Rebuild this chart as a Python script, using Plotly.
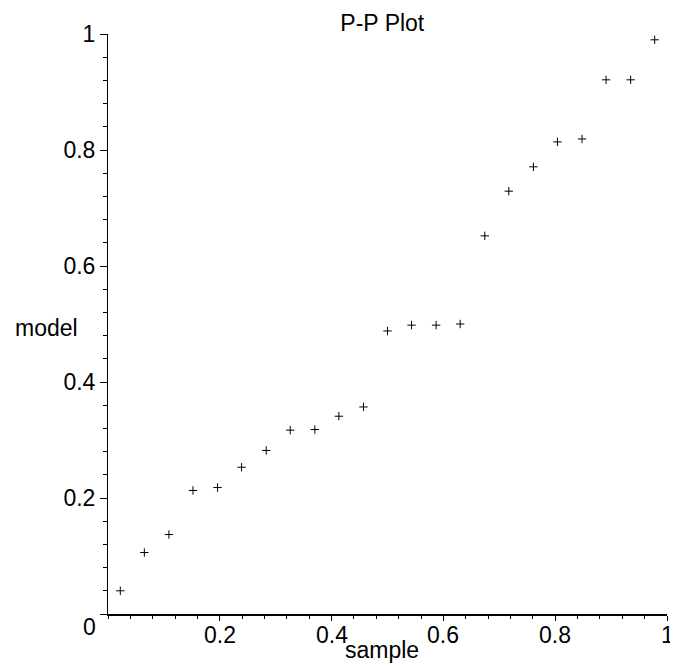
import plotly.graph_objects as go

# Data
sample = [0.022, 0.065, 0.109, 0.152, 0.196, 0.239, 0.283, 0.326, 0.370, 0.413,
          0.457, 0.500, 0.543, 0.587, 0.630, 0.674, 0.717, 0.761, 0.804, 0.848,
          0.891, 0.935, 0.978]
model = [0.040, 0.106, 0.137, 0.213, 0.218, 0.253, 0.282, 0.317, 0.318, 0.341,
         0.357, 0.488, 0.498, 0.498, 0.500, 0.652, 0.729, 0.771, 0.814, 0.819,
         0.921, 0.921, 0.990]

x_tickvals = [0.2, 0.4, 0.6, 0.8, 1.0]
x_ticktext = ["0.2", "0.4", "0.6", "0.8", "1"]
y_tickvals = [0.0, 0.2, 0.4, 0.6, 0.8, 1.0]
y_ticktext = ["", "0.2", "0.4", "0.6", "0.8", "1"]

FONT = "Liberation Sans, Arial, sans-serif"
FS = 23

fig = go.Figure(go.Scatter(
    x=sample, y=model, mode="markers",
    marker=dict(symbol="cross-thin", size=6, line=dict(width=1, color="black"), color="black"),
    showlegend=False, hoverinfo="x+y"))

fig.update_xaxes(
    range=[0, 1], showgrid=False, zeroline=False, showline=True,
    linecolor="black", linewidth=2, layer="above traces",
    ticks="outside", tickcolor="black", tickwidth=1.2, ticklen=5,
    tickmode="array", tickvals=x_tickvals, ticktext=x_ticktext,
    showticklabels=False,
    minor=dict(dtick=0.04, tick0=0, ticks="outside",
               ticklen=3, tickcolor="black", tickwidth=1.2, showgrid=False),
)
fig.update_yaxes(
    range=[0, 1], showgrid=False, zeroline=False, showline=True,
    linecolor="black", linewidth=1,
    ticks="outside", tickcolor="black", tickwidth=1, ticklen=7,
    tickmode="array", tickvals=y_tickvals, ticktext=y_ticktext,
    tickfont=dict(family=FONT, size=FS, color="black"),
    minor=dict(dtick=0.04, tick0=0, ticks="outside",
               ticklen=4, tickcolor="black", tickwidth=1, showgrid=False),
)

txt_font = dict(family=FONT, size=FS, color="black")
annotations = [
    dict(text="model", x=-0.1107, y=0.4936, xref="paper", yref="paper",
         xanchor="center", yanchor="middle", showarrow=False, font=txt_font),
    dict(text="sample", x=0.4907, y=-0.0624, xref="paper", yref="paper",
         xanchor="center", yanchor="middle", showarrow=False, font=txt_font),
    dict(text="0", x=-0.0338, y=-0.0219, xref="paper", yref="paper",
         xanchor="center", yanchor="middle", showarrow=False, font=txt_font),
]
for v, t in zip(x_tickvals, x_ticktext):
    annotations.append(dict(text=t, x=v, y=-0.0357, xref="x", yref="paper",
                            xanchor="center", yanchor="middle", showarrow=False,
                            font=txt_font))

fig.update_layout(
    width=670, height=659,
    margin=dict(l=100, r=11, t=26, b=53),
    paper_bgcolor="white", plot_bgcolor="white",
    font=txt_font,
    title=dict(text="P-P Plot", x=0.4907, xref="paper", xanchor="center",
               y=1 - 14.7 / 659, yref="container", yanchor="middle",
               font=txt_font),
    annotations=annotations,
)

fig.write_html("out.html")
